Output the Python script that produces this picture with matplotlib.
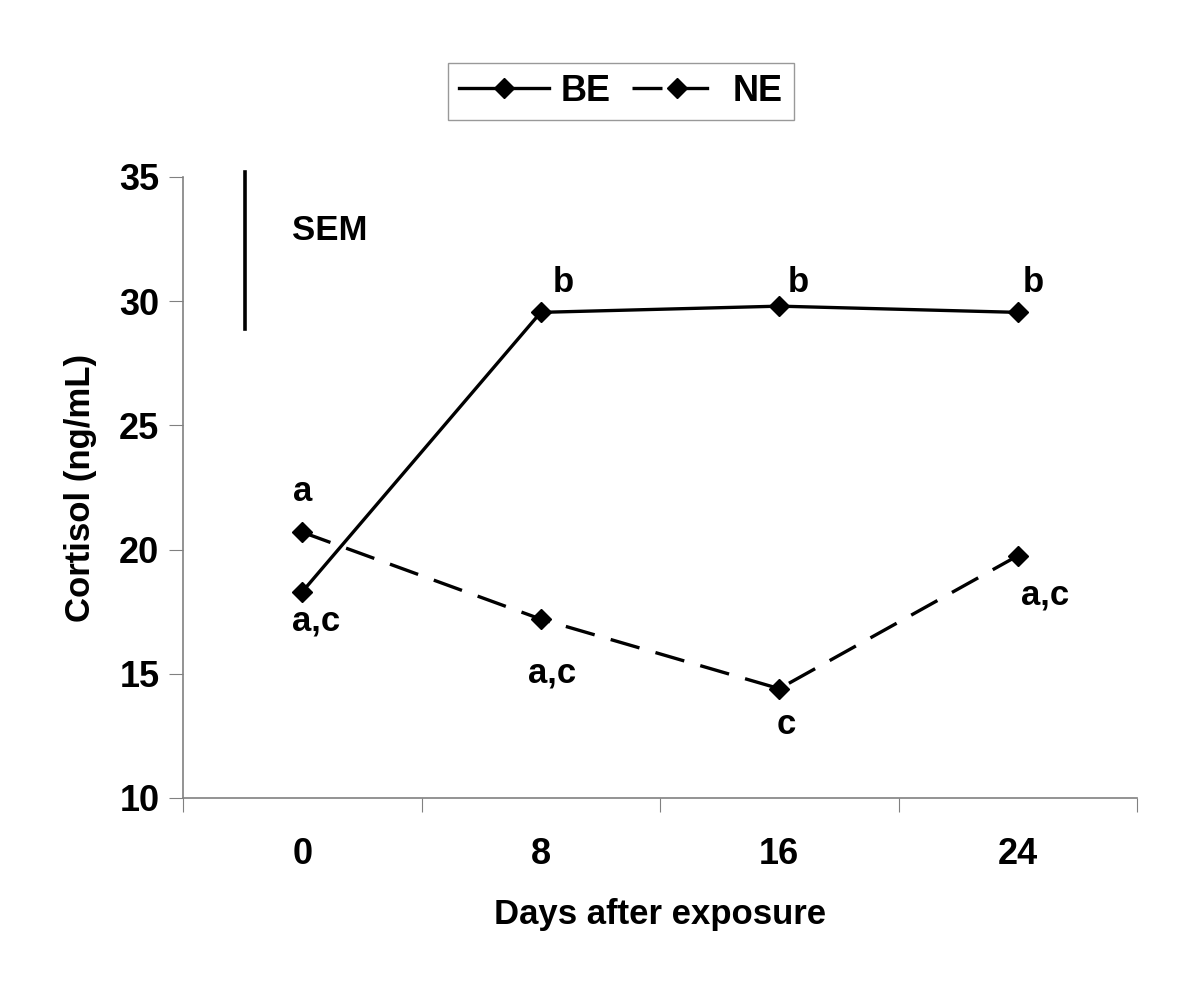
import numpy as np
import matplotlib.pyplot as plt

plt.rcParams['font.family'] = ['Liberation Sans', 'DejaVu Sans']
plt.rcParams['font.weight'] = 'bold'

# data
days = ['0', '8', '16', '24']
be = [18.3, 29.55, 29.8, 29.55]
ne = [20.7, 17.2, 14.4, 19.75]
be_letters = ['a,c', 'b', 'b', 'b']
ne_letters = ['a', 'a,c', 'c', 'a,c']
sem_bottom, sem_top = 28.9, 35.2

x = np.arange(len(days))

fig = plt.figure(figsize=(12, 9.91), dpi=100)
ax = fig.add_axes([0.1525, 0.1948, 0.795, 0.6266])

lb, = ax.plot(x, be, color='black', lw=2.4, marker='D', ms=10, label='BE')
ln, = ax.plot(x, ne, color='black', lw=2.4, marker='D', ms=10,
              linestyle=(0, (9, 5)), label='NE')

# significance letters (offsets in points)
be_off = [(10, -21), (16.5, 21.5), (13.7, 17.3), (11.5, 21.6)]
ne_off = [(0, 29.5), (8, -39), (5, -26), (20, -28)]
for i in range(len(days)):
    ax.annotate(be_letters[i], (x[i], be[i]), xytext=be_off[i], textcoords='offset points',
                ha='center', va='center', fontsize=25, fontweight='bold')
    ax.annotate(ne_letters[i], (x[i], ne[i]), xytext=ne_off[i], textcoords='offset points',
                ha='center', va='center', fontsize=25, fontweight='bold')

# SEM bar
ax.plot([-0.24, -0.24], [sem_bottom, sem_top], color='black', lw=2.6, clip_on=False)
ax.text(-0.045, 32.85, 'SEM', fontsize=25, fontweight='bold', va='center', ha='left')

ax.set_xlim(-0.5, 3.5)
ax.set_ylim(10, 35)
ax.set_yticks([10, 15, 20, 25, 30, 35])
ax.set_xticks(np.arange(-0.5, 4, 1))
ax.set_xticklabels([])
ax.set_xticks(x, minor=True)
ax.set_xticklabels(days, minor=True)
ax.tick_params(axis='x', which='minor', length=0, pad=28, labelsize=26)
ax.tick_params(axis='x', which='major', length=10, color='#808080', direction='out')
ax.tick_params(axis='y', length=10, color='#808080', direction='out', pad=7, labelsize=26)
for lab in ax.get_yticklabels() + ax.get_xticklabels(minor=True):
    lab.set_fontweight('bold')

for s in ['top', 'right']:
    ax.spines[s].set_visible(False)
for s in ['left', 'bottom']:
    ax.spines[s].set_color('#808080')
    ax.spines[s].set_linewidth(1.2)

ax.set_xlabel('Days after exposure', fontsize=25, fontweight='bold', labelpad=19)
ax.set_ylabel('Cortisol (ng/mL)', fontsize=25, fontweight='bold', labelpad=16)

leg = fig.legend(handles=[lb, ln], loc='center', bbox_to_anchor=(0.5175, 0.908), ncol=2,
                 frameon=True, fancybox=False, edgecolor='#808080', fontsize=26,
                 handlelength=2.5, columnspacing=0.6, handletextpad=0.3, borderpad=0.3)
leg.get_frame().set_linewidth(1.0)
for t in leg.get_texts():
    t.set_fontweight('bold')

fig.savefig('out.png', dpi=100, facecolor='white')
